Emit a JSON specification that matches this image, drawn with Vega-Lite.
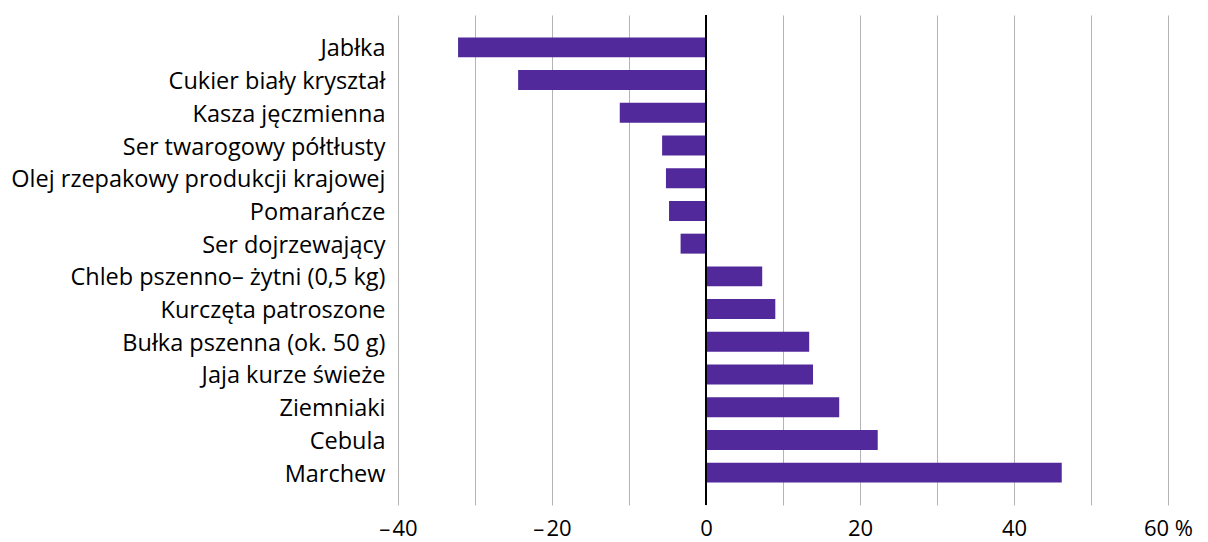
{
  "$schema": "https://vega.github.io/schema/vega-lite/v6.json",
  "width": 770,
  "height": 490,
  "autosize": {"type": "none"},
  "padding": {"left": 398, "top": 15, "right": 40, "bottom": 37},
  "background": "white",
  "config": {
    "view": {"stroke": null},
    "font": "Open Sans",
    "axis": {"labelFont": "Open Sans", "labelColor": "#000000"}
  },
  "data": {
    "values": [
      {"produkt": "Jabłka", "zmiana": -32.2},
      {"produkt": "Cukier biały kryształ", "zmiana": -24.4},
      {"produkt": "Kasza jęczmienna", "zmiana": -11.2},
      {"produkt": "Ser twarogowy półtłusty\u00a0", "zmiana": -5.7},
      {"produkt": "Olej rzepakowy produkcji krajowej", "zmiana": -5.2},
      {"produkt": "Pomarańcze", "zmiana": -4.8},
      {"produkt": "Ser dojrzewający", "zmiana": -3.3},
      {"produkt": "Chleb pszenno– żytni (0,5 kg)", "zmiana": 7.3},
      {"produkt": "Kurczęta patroszone\u00a0", "zmiana": 9.0},
      {"produkt": "Bułka pszenna (ok. 50 g)", "zmiana": 13.4},
      {"produkt": "Jaja kurze świeże", "zmiana": 13.9},
      {"produkt": "Ziemniaki", "zmiana": 17.3},
      {"produkt": "Cebula", "zmiana": 22.3},
      {"produkt": "Marchew", "zmiana": 46.2}
    ]
  },
  "layer": [
    {
      "mark": {"type": "bar", "color": "#51299b"},
      "encoding": {
        "y": {
          "field": "produkt",
          "type": "nominal",
          "sort": null,
          "scale": {"paddingInner": 0.39, "paddingOuter": 0.685},
          "axis": {
            "title": null,
            "ticks": false,
            "domain": false,
            "labelPadding": 13,
            "labelFontSize": 23.5,
            "labelOffset": 2,
            "labelLimit": 500
          }
        },
        "x": {
          "field": "zmiana",
          "type": "quantitative",
          "scale": {"domain": [-40, 60], "nice": false},
          "axis": {
            "title": null,
            "values": [-40, -30, -20, -10, 0, 10, 20, 30, 40, 50, 60],
            "labelExpr": "datum.value % 20 !== 0 ? '' : (datum.value < 0 ? '–\u200a' + abs(datum.value) : (datum.value === 60 ? '60 %' : '' + datum.value))",
            "grid": true,
            "gridColor": "#b4b4b4",
            "gridWidth": 1,
            "ticks": false,
            "domain": false,
            "labelFontSize": 22,
            "labelPadding": 13,
            "labelFlush": false,
            "labelOverlap": false
          }
        }
      }
    },
    {
      "mark": {"type": "rule", "color": "#000000", "strokeWidth": 2},
      "encoding": {"x": {"datum": 0}}
    }
  ]
}
